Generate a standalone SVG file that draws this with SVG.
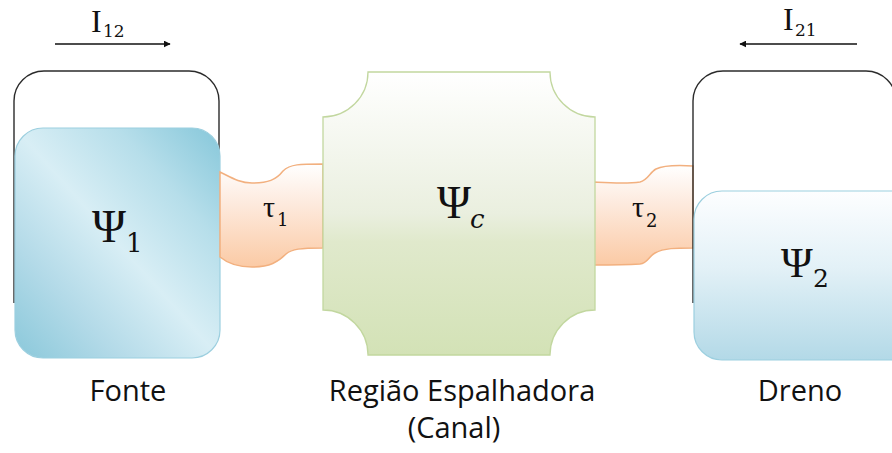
<svg xmlns="http://www.w3.org/2000/svg" width="892" height="453" viewBox="0 0 892 453">
<style>
.outline{fill:none;stroke:#2b2b2b;stroke-width:1.4}
.lbl{font-family:"Open Sans","Noto Sans",sans-serif;font-size:29px;fill:#111}
.math{font-family:"Liberation Serif","DejaVu Serif",serif;fill:#111}
.sub{font-family:"DejaVu Serif","Liberation Serif",serif;fill:#111}
.tun{fill:url(#gTun);stroke:#f2b07f;stroke-width:1.5}
.arrow{stroke:#111;stroke-width:1.3;fill:none;marker-end:url(#ah)}
</style>
<defs>
<marker id="ah" viewBox="0 0 10 10" refX="9" refY="5" markerWidth="7" markerHeight="7" markerUnits="userSpaceOnUse" orient="auto"><path d="M0,0 L10,5 L0,10 Z" fill="#111"/></marker>
<linearGradient id="gBlue1" x1="1" y1="0" x2="0" y2="1">
<stop offset="0" stop-color="#86c7da"/><stop offset="0.25" stop-color="#b6deea"/><stop offset="0.5" stop-color="#d8eef5"/><stop offset="0.75" stop-color="#b3dae8"/><stop offset="1" stop-color="#8ac8da"/>
</linearGradient>
<linearGradient id="gBlue2" x1="0" y1="0" x2="0" y2="1">
<stop offset="0" stop-color="#fdfeff"/><stop offset="0.45" stop-color="#e3f1f7"/><stop offset="1" stop-color="#b3d9e7"/>
</linearGradient>
<linearGradient id="gGreen" x1="0" y1="0" x2="0" y2="1">
<stop offset="0" stop-color="#ffffff"/><stop offset="0.5" stop-color="#eaefdf"/><stop offset="0.6" stop-color="#e0e9cc"/><stop offset="1" stop-color="#d3e2b6"/>
</linearGradient>
<linearGradient id="gTun" x1="0" y1="0" x2="0" y2="1">
<stop offset="0" stop-color="#ffffff"/><stop offset="0.4" stop-color="#fde9dc"/><stop offset="1" stop-color="#fbcaa5"/>
</linearGradient>
</defs>

<g id="connectors">
<line class="arrow" x1="55" y1="44" x2="170" y2="44"/>
<line class="arrow" x1="857" y1="44" x2="740" y2="44"/>
</g>

<g id="label-I12">
<text class="math" x="91" y="32" font-size="32">I</text>
<text class="sub" x="103" y="37" font-size="17">12</text>
</g>
<g id="label-I21">
<text class="math" x="783" y="30" font-size="32">I</text>
<text class="sub" x="795" y="36" font-size="17">21</text>
</g>

<g id="fonte">
<path class="outline" d="M14 303 L14 101 A30 30 0 0 1 44 71 L189 71 A30 30 0 0 1 219 101 L219 303"/>
<rect x="15" y="128" width="205" height="230" rx="28" fill="url(#gBlue1)" stroke="#9ccfdf" stroke-width="1.2"/>
<text class="math" x="92" y="242" font-size="46">Ψ</text>
<text class="sub" x="126" y="252" font-size="26">1</text>
<text class="lbl" x="128" y="401" text-anchor="middle">Fonte</text>
</g>

<g id="tau1">
<path class="tun" d="M220 172 C232 178 240 183 252 183 C268 183 276 180 283 171 C290 164 300 164 323 164 L323 248 C300 248 292 249 286 254 C278 262 270 267 252 267 C236 267 226 262 220 257 Z"/>
<text class="math" x="263" y="217" font-size="30">τ</text>
<text class="sub" x="277" y="226" font-size="18">1</text>
</g>

<g id="tau2">
<path class="tun" d="M594 182 C612 183 626 184 640 182 C648 180 650 172 656 169 C664 165 676 165 693 166 L693 248 C676 248 664 248 655 253 C648 257 648 263 640 264 C624 265 608 265 594 265 Z"/>
<text class="math" x="632" y="217" font-size="30">τ</text>
<text class="sub" x="646" y="227" font-size="18">2</text>
</g>

<g id="canal">
<path d="M368 72 L550 72 A45 45 0 0 0 595 117 L595 310 A45 45 0 0 0 550 355 L368 355 A45 45 0 0 0 323 310 L323 117 A45 45 0 0 0 368 72 Z" fill="url(#gGreen)" stroke="#c2d79f" stroke-width="1.3"/>
<text class="math" x="437" y="218" font-size="46">Ψ</text>
<text class="sub" x="470" y="228" font-size="26" font-style="italic">c</text>
<text class="lbl" x="462" y="401" text-anchor="middle">Região Espalhadora</text>
<text class="lbl" x="454" y="438" text-anchor="middle">(Canal)</text>
</g>

<g id="dreno">
<path class="outline" d="M693 303 L693 101 A30 30 0 0 1 723 71 L866 71 A30 30 0 0 1 896 101"/>
<rect x="694" y="191" width="230" height="169" rx="28" fill="url(#gBlue2)" stroke="#9ccfdf" stroke-width="1.2"/>
<text class="math" x="781" y="277" font-size="43">Ψ</text>
<text class="sub" x="813" y="287" font-size="25">2</text>
<text class="lbl" x="800" y="401" text-anchor="middle">Dreno</text>
</g>
</svg>
